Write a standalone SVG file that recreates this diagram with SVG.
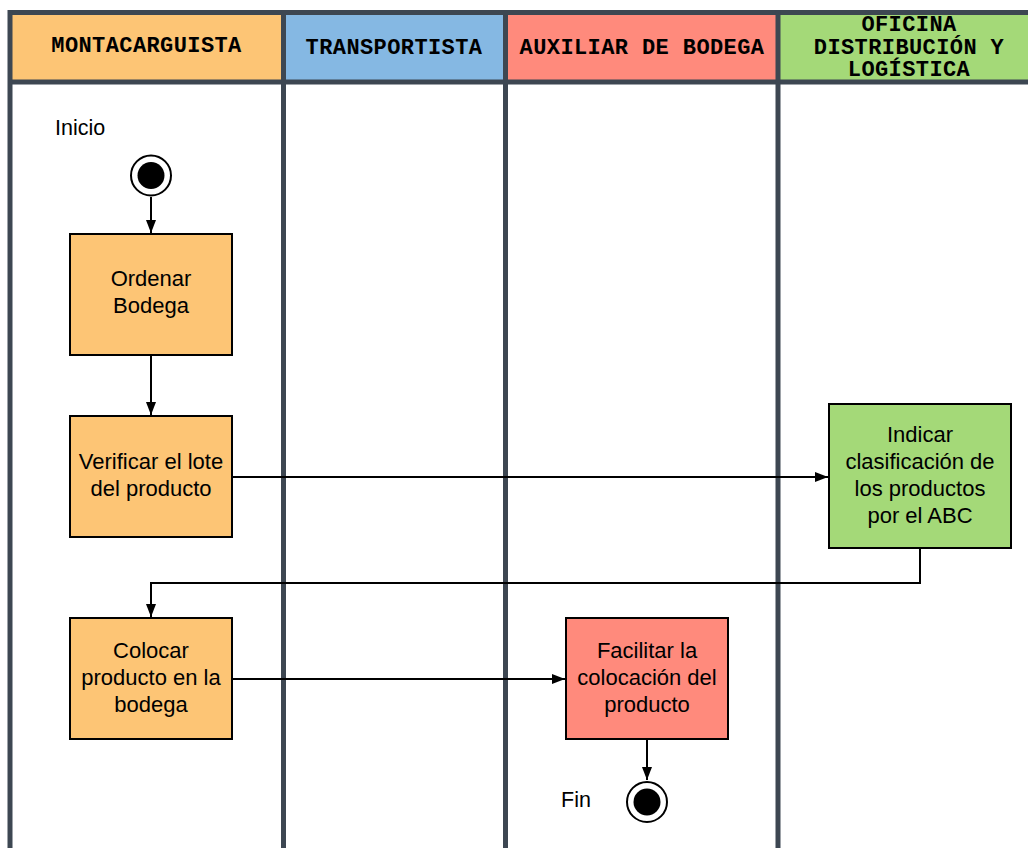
<svg xmlns="http://www.w3.org/2000/svg" width="1028" height="848" viewBox="0 0 1028 848">
  <defs>
    <marker id="arrow" viewBox="0 0 13 10" refX="13" refY="5" markerWidth="13" markerHeight="10" markerUnits="userSpaceOnUse" orient="auto">
      <path d="M0,0 L13,5 L0,10 Z" fill="#000"/>
    </marker>
  </defs>
  <style>
    .lane-line { stroke: #3d4752; stroke-width: 5; fill: none; }
    .hdr { font-family: "Liberation Mono", "DejaVu Sans Mono", monospace; font-weight: bold; font-size: 22px; letter-spacing: 0.4px; fill: #000; text-anchor: middle; }
    .box { stroke: #000; stroke-width: 2; }
    .lbl { font-family: "Liberation Sans", Arial, sans-serif; font-size: 22px; fill: #000; text-anchor: middle; }
    .note { font-family: "Liberation Sans", Arial, sans-serif; font-size: 21.5px; fill: #000; }
    .conn { stroke: #000; stroke-width: 2; fill: none; marker-end: url(#arrow); }
  </style>

  <rect x="0" y="0" width="1028" height="848" fill="#fff"/>

  <!-- swimlane headers -->
  <g id="lanes">
    <rect x="10" y="12" width="273" height="70" fill="#fdc575"/>
    <rect x="283" y="12" width="222" height="70" fill="#85b8e3"/>
    <rect x="505" y="12" width="273" height="70" fill="#ff8a7c"/>
    <rect x="778" y="12" width="250" height="70" fill="#a4d978"/>
    <line class="lane-line" x1="8" y1="12.5" x2="1028" y2="12.5"/>
    <line class="lane-line" x1="8" y1="82" x2="1028" y2="82"/>
    <line class="lane-line" x1="10" y1="10" x2="10" y2="848"/>
    <line class="lane-line" x1="283.5" y1="10" x2="283.5" y2="848"/>
    <line class="lane-line" x1="505.5" y1="10" x2="505.5" y2="848"/>
    <line class="lane-line" x1="778" y1="10" x2="778" y2="848"/>
    <text class="hdr" x="146.5" y="52">MONTACARGUISTA</text>
    <text class="hdr" x="394" y="54">TRANSPORTISTA</text>
    <text class="hdr" x="642" y="54">AUXILIAR DE BODEGA</text>
    <text class="hdr" x="909" y="31">OFICINA</text>
    <text class="hdr" x="909" y="53.5">DISTRIBUCIÓN Y</text>
    <text class="hdr" x="909" y="76">LOGÍSTICA</text>
  </g>

  <!-- connectors -->
  <g id="connectors">
    <line class="conn" x1="151" y1="197" x2="151" y2="233"/>
    <line class="conn" x1="151" y1="355" x2="151" y2="415"/>
    <line class="conn" x1="232" y1="477" x2="828" y2="477"/>
    <polyline class="conn" points="920,548 920,583 151,583 151,617"/>
    <line class="conn" x1="232" y1="679" x2="565" y2="679"/>
    <line class="conn" x1="647" y1="739" x2="647" y2="780"/>
  </g>

  <g id="start">
    <text class="note" x="55" y="135">Inicio</text>
    <circle cx="151" cy="175.5" r="20" fill="#fff" stroke="#000" stroke-width="2"/>
    <circle cx="151" cy="175.5" r="13.5" fill="#000"/>
  </g>

  <g id="ordenar-bodega">
    <rect class="box" x="70" y="234" width="162" height="121" fill="#fdc575"/>
    <text class="lbl" x="151" y="286">Ordenar</text>
    <text class="lbl" x="151" y="313">Bodega</text>
  </g>

  <g id="verificar-lote">
    <rect class="box" x="70" y="416" width="162" height="121" fill="#fdc575"/>
    <text class="lbl" x="151" y="469">Verificar el lote</text>
    <text class="lbl" x="151" y="496">del producto</text>
  </g>

  <g id="indicar-clasificacion">
    <rect class="box" x="829" y="404" width="182" height="144" fill="#a4d978"/>
    <text class="lbl" x="920" y="442">Indicar</text>
    <text class="lbl" x="920" y="469">clasificación de</text>
    <text class="lbl" x="920" y="496">los productos</text>
    <text class="lbl" x="920" y="523">por el ABC</text>
  </g>

  <g id="colocar-producto">
    <rect class="box" x="70" y="618" width="162" height="121" fill="#fdc575"/>
    <text class="lbl" x="151" y="658">Colocar</text>
    <text class="lbl" x="151" y="685">producto en la</text>
    <text class="lbl" x="151" y="712">bodega</text>
  </g>

  <g id="facilitar-colocacion">
    <rect class="box" x="566" y="618" width="162" height="121" fill="#ff8a7c"/>
    <text class="lbl" x="647" y="658">Facilitar la</text>
    <text class="lbl" x="647" y="685">colocación del</text>
    <text class="lbl" x="647" y="712">producto</text>
  </g>

  <g id="end">
    <text class="note" x="561" y="807">Fin</text>
    <circle cx="647" cy="802" r="20" fill="#fff" stroke="#000" stroke-width="2"/>
    <circle cx="647" cy="802" r="13.5" fill="#000"/>
  </g>
</svg>
